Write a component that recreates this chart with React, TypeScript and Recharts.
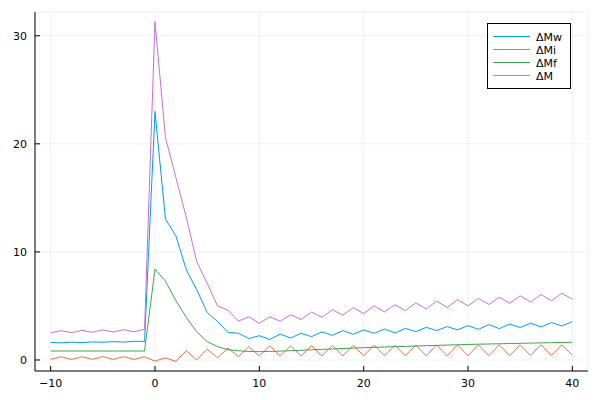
import React from "react";
import { LineChart, Line, XAxis, YAxis, CartesianGrid } from "recharts";

const steps = [
  -10, -9, -8, -7, -6, -5, -4, -3, -2, -1, 0, 1, 2, 3, 4, 5, 6, 7, 8, 9, 10, 11, 12, 13, 14, 15, 16,
  17, 18, 19, 20, 21, 22, 23, 24, 25, 26, 27, 28, 29, 30, 31, 32, 33, 34, 35, 36, 37, 38, 39, 40,
];

const dMw = [
  1.62, 1.58, 1.65, 1.61, 1.67, 1.64, 1.70, 1.66, 1.73, 1.71, 23.0, 13.05, 11.5, 8.35, 6.5, 4.4,
  3.55, 2.55, 2.47, 1.98, 2.25, 1.9, 2.4, 2.03, 2.47, 2.16, 2.6, 2.28, 2.72, 2.38, 2.78, 2.47, 2.87,
  2.5, 2.93, 2.62, 3.02, 2.72, 3.09, 2.78, 3.18, 2.84, 3.27, 2.9, 3.33, 3.0, 3.4, 3.06, 3.46, 3.15,
  3.55,
];

const dMi = [
  0.05, 0.3, 0.05, 0.3, 0.06, 0.31, 0.06, 0.31, 0.05, 0.3, -0.1, 0.2, -0.12, 0.86, 0.0, 1.0, 0.2,
  1.1, 0.3, 1.23, 0.37, 1.3, 0.37, 1.3, 0.37, 1.33, 0.37, 1.35, 0.37, 1.36, 0.38, 1.37, 0.38, 1.37,
  0.38, 1.38, 0.38, 1.39, 0.38, 1.39, 0.39, 1.4, 0.39, 1.4, 0.4, 1.4, 0.41, 1.41, 0.42, 1.41, 0.44,
];

const dMf = [
  0.83, 0.83, 0.83, 0.83, 0.83, 0.83, 0.83, 0.83, 0.83, 0.83, 8.4, 7.3, 5.5, 3.95, 2.6, 1.7, 1.23,
  0.95, 0.85, 0.79, 0.77, 0.79, 0.82, 0.86, 0.9, 0.94, 0.98, 1.02, 1.06, 1.1, 1.14, 1.17, 1.2, 1.23,
  1.26, 1.29, 1.32, 1.35, 1.38, 1.41, 1.44, 1.46, 1.48, 1.5, 1.52, 1.54, 1.56, 1.58, 1.6, 1.62,
  1.64,
];

const dM = [
  2.5, 2.71, 2.53, 2.74, 2.56, 2.78, 2.59, 2.8, 2.61, 2.84, 31.3, 20.6, 16.9, 13.2, 9.1, 7.1, 5.0,
  4.6, 3.6, 4.0, 3.39, 3.99, 3.59, 4.19, 3.74, 4.43, 3.95, 4.65, 4.15, 4.84, 4.3, 5.01, 4.45, 5.1,
  4.57, 5.29, 4.72, 5.46, 4.85, 5.58, 5.01, 5.7, 5.14, 5.8, 5.25, 5.94, 5.37, 6.05, 5.48, 6.18,
  5.63,
];

const xTicks = [-10, 0, 10, 20, 30, 40];
const yTicks = [0, 10, 20, 30];

const data = steps.map((s, i) => ({ step: s, dMw: dMw[i], dMi: dMi[i], dMf: dMf[i], dM: dM[i] }));

const font = "'DejaVu Sans', sans-serif";

const fmt = (v: number) => (v < 0 ? "\u2212" + Math.abs(v) : String(v));

function XTick(props: any) {
  const { x, y, payload } = props;
  return (
    <g>
      <line x1={x} y1={y} x2={x} y2={y - 5} stroke="#000" strokeWidth={1} />
      <text x={x} y={y + 16} textAnchor="middle" fontSize={11} fontFamily={font} fill="#000">
        {fmt(payload.value)}
      </text>
    </g>
  );
}

function YTick(props: any) {
  const { x, y, payload } = props;
  return (
    <g>
      <line x1={x} y1={y} x2={x + 5} y2={y} stroke="#000" strokeWidth={1} />
      <text x={x - 8} y={y + 4} textAnchor="end" fontSize={11} fontFamily={font} fill="#000">
        {fmt(payload.value)}
      </text>
    </g>
  );
}

const series = [
  { key: "dMw", name: "ΔMw", color: "#009AFA" },
  { key: "dMi", name: "ΔMi", color: "#E36F47" },
  { key: "dMf", name: "ΔMf", color: "#3EA44E" },
  { key: "dM", name: "ΔM", color: "#C371D2" },
];

// legend drawn outside recharts so it doesn't shrink the plot area
function LegendBox() {
  return (
    <svg width={84} height={66} style={{ position: "absolute", left: 487, top: 23 }}>
      <rect x={0.5} y={0.5} width={83} height={65} fill="#fff" stroke="#000" strokeWidth={1} />
      {series.map((s, i) => (
        <g key={s.key}>
          <line x1={6} x2={43} y1={13.5 + i * 13} y2={13.5 + i * 13} stroke={s.color} strokeWidth={1} />
          <text x={49} y={17.5 + i * 13} fontSize={11} fontFamily={font} fill="#000">
            {s.name}
          </text>
        </g>
      ))}
    </svg>
  );
}

export default function App() {
  return (
    <div style={{ position: "absolute", left: 0, top: 0, width: 600, height: 400, background: "#fff" }}>
      <LineChart width={600} height={400} data={data} margin={{ top: 12, right: 12, left: 0, bottom: 0 }}>
        <CartesianGrid stroke="#000" strokeOpacity={0.1} strokeWidth={0.6} />
        <XAxis
          dataKey="step"
          type="number"
          domain={[-11.5, 41.5]}
          ticks={xTicks}
          allowDataOverflow
          height={29}
          tickSize={0}
          tickMargin={0}
          tickLine={false}
          axisLine={{ stroke: "#000", strokeWidth: 1 }}
          tick={<XTick />}
        />
        <YAxis
          type="number"
          domain={[-1.02, 32.2]}
          ticks={yTicks}
          allowDataOverflow
          width={35}
          tickSize={0}
          tickMargin={0}
          tickLine={false}
          axisLine={{ stroke: "#000", strokeWidth: 1 }}
          tick={<YTick />}
        />
        {series.map((s) => (
          <Line
            key={s.key}
            type="linear"
            dataKey={s.key}
            name={s.name}
            stroke={s.color}
            strokeWidth={1}
            dot={false}
            isAnimationActive={false}
          />
        ))}
      </LineChart>
      <LegendBox />
    </div>
  );
}
